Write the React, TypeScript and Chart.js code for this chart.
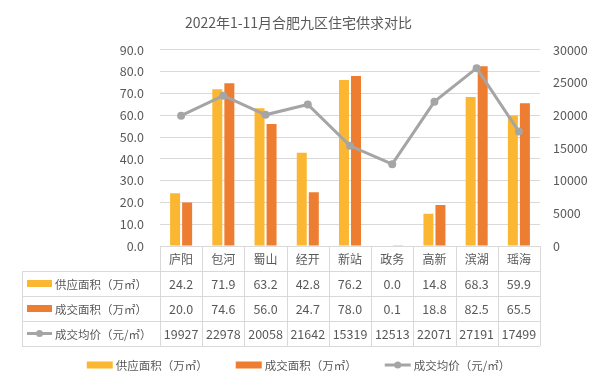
import React, { useEffect, useRef } from "react";
import { Chart, registerables } from "chart.js";

Chart.register(...registerables);

const chartTitle = "2022年1-11月合肥九区住宅供求对比";
const categories = ["庐阳", "包河", "蜀山", "经开", "新站", "政务", "高新", "滨湖", "瑶海"];
const supplyArea = [24.2, 71.9, 63.2, 42.8, 76.2, 0.0, 14.8, 68.3, 59.9];
const dealArea = [20.0, 74.6, 56.0, 24.7, 78.0, 0.1, 18.8, 82.5, 65.5];
const avgPrice = [19927, 22978, 20058, 21642, 15319, 12513, 22071, 27191, 17499];
const seriesNames = ["供应面积（万㎡）", "成交面积（万㎡）", "成交均价（元/㎡）"];

const FONT = "'Noto Sans CJK SC', 'Microsoft YaHei', sans-serif";
const TEXT = "#595959";
const GRID = "#d9d9d9";
const YELLOW = "#FBB731";
const ORANGE = "#ED7D31";
const GRAY = "#A5A5A5";

function drawKey(ctx: CanvasRenderingContext2D, kind: number, x: number, y: number, w: number) {
  if (kind === 2) {
    ctx.strokeStyle = GRAY;
    ctx.lineWidth = 3;
    ctx.beginPath();
    ctx.moveTo(x, y);
    ctx.lineTo(x + w, y);
    ctx.stroke();
    ctx.fillStyle = GRAY;
    ctx.beginPath();
    ctx.arc(x + w / 2, y, 3.5, 0, Math.PI * 2);
    ctx.fill();
  } else {
    ctx.fillStyle = kind === 0 ? YELLOW : ORANGE;
    ctx.fillRect(x, y - 3.5, w, 7);
  }
}

const tablePlugin = {
  id: "dataTable",
  afterDraw(chart: any) {
    const ctx: CanvasRenderingContext2D = chart.ctx;
    const area = chart.chartArea;
    const xs = chart.scales.x;
    const n = categories.length;
    const cw = (area.right - area.left) / n;
    const top = area.bottom;
    const rowH = 25;
    const tableLeft = 22;
    const rows = [
      supplyArea.map((v) => v.toFixed(1)),
      dealArea.map((v) => v.toFixed(1)),
      avgPrice.map((v) => String(v)),
    ];
    ctx.save();
    ctx.strokeStyle = GRID;
    ctx.lineWidth = 1;
    for (let r = 1; r <= 4; r++) {
      const y = Math.round(top + r * rowH) + 0.5;
      ctx.beginPath();
      ctx.moveTo(tableLeft, y);
      ctx.lineTo(area.right, y);
      ctx.stroke();
    }
    for (let i = 0; i <= n; i++) {
      const x = Math.round(area.left + i * cw) + 0.5;
      ctx.beginPath();
      ctx.moveTo(x, top);
      ctx.lineTo(x, top + 4 * rowH);
      ctx.stroke();
    }
    ctx.beginPath();
    ctx.moveTo(tableLeft + 0.5, top + rowH);
    ctx.lineTo(tableLeft + 0.5, top + 4 * rowH);
    ctx.stroke();

    ctx.fillStyle = TEXT;
    ctx.textAlign = "center";
    ctx.textBaseline = "middle";
    for (let i = 0; i < n; i++) {
      const cx = xs.getPixelForValue(i);
      ctx.fillStyle = TEXT;
      ctx.font = `12px ${FONT}`;
      ctx.fillText(categories[i], cx, top + rowH / 2 + 1);
      ctx.font = `12.5px ${FONT}`;
      for (let r = 0; r < 3; r++) {
        ctx.fillText(rows[r][i], cx, top + rowH * (r + 1) + rowH / 2 + 1);
      }
    }
    ctx.font = `11.5px ${FONT}`;
    for (let r = 0; r < 3; r++) {
      const cy = top + rowH * (r + 1) + rowH / 2;
      drawKey(ctx, r, 27, cy, 25);
      ctx.fillStyle = TEXT;
      ctx.textAlign = "left";
      ctx.fillText(seriesNames[r], 55, cy + 1);
    }

    // bottom legend
    const ly = 365;
    const keyW = 26;
    const gapKT = 3;
    const gapItems = 28;
    const widths = seriesNames.map((s) => ctx.measureText(s).width);
    const total = widths.reduce((a, w) => a + keyW + gapKT + w, 0) + gapItems * (seriesNames.length - 1);
    let x = chart.width / 2 - total / 2;
    for (let r = 0; r < 3; r++) {
      drawKey(ctx, r, x, ly, keyW);
      ctx.fillStyle = TEXT;
      ctx.textAlign = "left";
      ctx.fillText(seriesNames[r], x + keyW + gapKT, ly + 1);
      x += keyW + gapKT + widths[r] + gapItems;
    }
    ctx.restore();
  },
};

export default function App() {
  const ref = useRef<HTMLCanvasElement>(null);
  useEffect(() => {
    if (!ref.current) return;
    const chart = new Chart(ref.current, {
      type: "bar",
      data: {
        labels: categories,
        datasets: [
          {
            type: "line",
            label: seriesNames[2],
            data: avgPrice,
            yAxisID: "y1",
            borderColor: GRAY,
            backgroundColor: GRAY,
            borderWidth: 3,
            pointRadius: 4,
            pointBackgroundColor: GRAY,
            pointBorderWidth: 0,
            order: 0,
          } as any,
          {
            type: "bar",
            label: seriesNames[0],
            data: supplyArea,
            yAxisID: "y",
            backgroundColor: YELLOW,
            categoryPercentage: 0.57,
            barPercentage: 0.83,
            order: 1,
          },
          {
            type: "bar",
            label: seriesNames[1],
            data: dealArea,
            yAxisID: "y",
            backgroundColor: ORANGE,
            categoryPercentage: 0.57,
            barPercentage: 0.83,
            order: 1,
          },
        ],
      },
      options: {
        responsive: false,
        animation: false,
        devicePixelRatio: 1,
        layout: { padding: { top: 0, bottom: 139, left: 0, right: 0 } },
        plugins: {
          legend: { display: false },
          tooltip: { enabled: false },
          title: {
            display: true,
            text: chartTitle,
            color: TEXT,
            font: { family: FONT, size: 14, weight: "normal" },
            padding: { top: 14, bottom: 19 },
          },
        },
        scales: {
          x: { display: false },
          y: {
            position: "left",
            min: 0,
            max: 90,
            ticks: {
              stepSize: 10,
              padding: 16,
              color: TEXT,
              font: { family: FONT, size: 12.5 },
              callback: (v: any) => Number(v).toFixed(1),
            },
            grid: { color: GRID, drawTicks: false },
            border: { display: false },
            afterFit: (s: any) => {
              s.width = 160;
            },
          },
          y1: {
            position: "right",
            min: 0,
            max: 30000,
            ticks: {
              stepSize: 5000,
              padding: 13,
              color: TEXT,
              font: { family: FONT, size: 12.5 },
              callback: (v: any) => String(v),
            },
            grid: { display: false, drawTicks: false },
            border: { display: false },
            afterFit: (s: any) => {
              s.width = 57;
            },
          },
        },
      } as any,
      plugins: [tablePlugin],
    });
    return () => chart.destroy();
  }, []);
  return (
    <div style={{ position: "fixed", left: 0, top: 0, width: 597, height: 385, background: "#fff" }}>
      <canvas ref={ref} width={597} height={385} />
    </div>
  );
}
